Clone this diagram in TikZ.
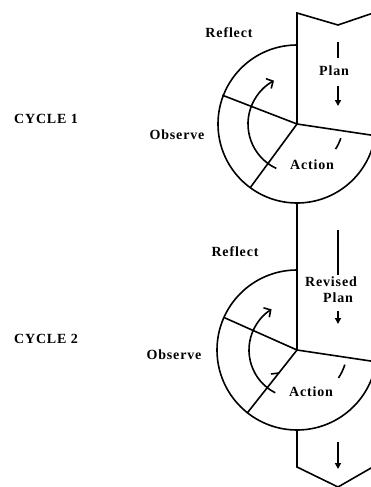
\documentclass[tikz,border=0pt]{standalone}
\usepackage{fontspec}
\setmainfont{Liberation Serif}[LetterSpace=6]
\usetikzlibrary{arrows.meta}
\tikzset{
	x=1pt, y=-1pt,
	every node/.style = {
		font=\bfseries\fontsize{14}{16}\selectfont,
		inner sep=0pt
	},
	rim/.style = {line width=1.6pt},
	bar/.style = {line width=2.8pt},
	turn/.style = {line width=1.6pt, -{Straight Barb[length=5pt,width=11pt]}},
	down/.style = {line width=1.6pt, -{Triangle[length=6pt,width=6pt]}}
}

\begin{document}
\begin{tikzpicture}
	\useasboundingbox (0,0) rectangle (371,487);
	\clip (0,0) rectangle (371,487);
	\coordinate (top) at (297,13);
	\coordinate (notch) at (338,25);
	\coordinate (topr) at (385,9);
	\coordinate (c1) at (297,124);
	\coordinate (c2) at (297,350);
	\coordinate (foot) at (297,467);
	\coordinate (tip) at (338,487);
	\coordinate (footr) at (385,460);
	\path (c1) ++(0,79) coordinate (c1s);
	\path (c2) ++(0,80) coordinate (c2s);

	% band edges
	\draw[rim] (topr) -- (notch) -- (top) -- (c1);
	\draw[rim] (c1s) -- (c2);
	\draw[rim] (c2s) -- (foot) -- (tip) -- (footr);

	% cycle 1
	\draw[rim] (c1) ++(-90:79) arc[start angle=-90, end angle=-351.5, radius=79];
	\draw[rim] (c1) -- ++(-158.9:80);
	\draw[rim] (c1) -- ++(-233.7:79);
	\draw[rim] (c1) -- ++(8.5:95);
	\draw[turn] (c1) ++(-245:49) arc[start angle=-245, end angle=-118, radius=49];
	\draw[rim] (c1) ++(33:46) arc[start angle=33, end angle=18, radius=46];

	% cycle 2
	\draw[rim] (c2) ++(-90:80) arc[start angle=-90, end angle=-351.5, radius=80];
	\draw[rim] (c2) -- ++(-156:80);
	\draw[rim] (c2) -- ++(-231.7:80);
	\draw[rim] (c2) -- ++(8.5:95);
	\draw[turn] (c2) ++(-243:48) arc[start angle=-243, end angle=-122, radius=48];
	\draw[rim] (c2) ++(34:50) arc[start angle=34, end angle=17, radius=50];
	\coordinate (tickl) at (271,374);
	\coordinate (tickr) at (279,373);
	\draw[rim] (tickl) -- (tickr);

	% plan marks
	\coordinate (bar1a) at (338,42);
	\coordinate (bar1b) at (338,58);
	\coordinate (dn1a) at (338,86);
	\coordinate (dn1b) at (338,106);
	\coordinate (bar2a) at (338,230);
	\coordinate (bar2b) at (338,275);
	\coordinate (dn2a) at (338,311);
	\coordinate (dn2b) at (338,324);
	\coordinate (dn3a) at (338,442);
	\coordinate (dn3b) at (338,469);
	\draw[bar] (bar1a) -- (bar1b);
	\draw[down] (dn1a) -- (dn1b);
	\draw[bar] (bar2a) -- (bar2b);
	\draw[down] (dn2a) -- (dn2b);
	\draw[down] (dn3a) -- (dn3b);

	% labels
	\node (cyc1) at (46,119) {CYCLE 1};
	\node (cyc2) at (46,339) {CYCLE 2};
	\node (refl1) at (229,33) {Reflect};
	\node (refl2) at (235,252) {Reflect};
	\node (obs1) at (177,135) {Observe};
	\node (obs2) at (174,355) {Observe};
	\node (act1) at (312,165) {Action};
	\node (act2) at (311,392) {Action};
	\node (plan1) at (334,71) {Plan};
	\node (rev2) at (331,282) {Revised};
	\node (plan2) at (338,298) {Plan};
\end{tikzpicture}
\end{document}
